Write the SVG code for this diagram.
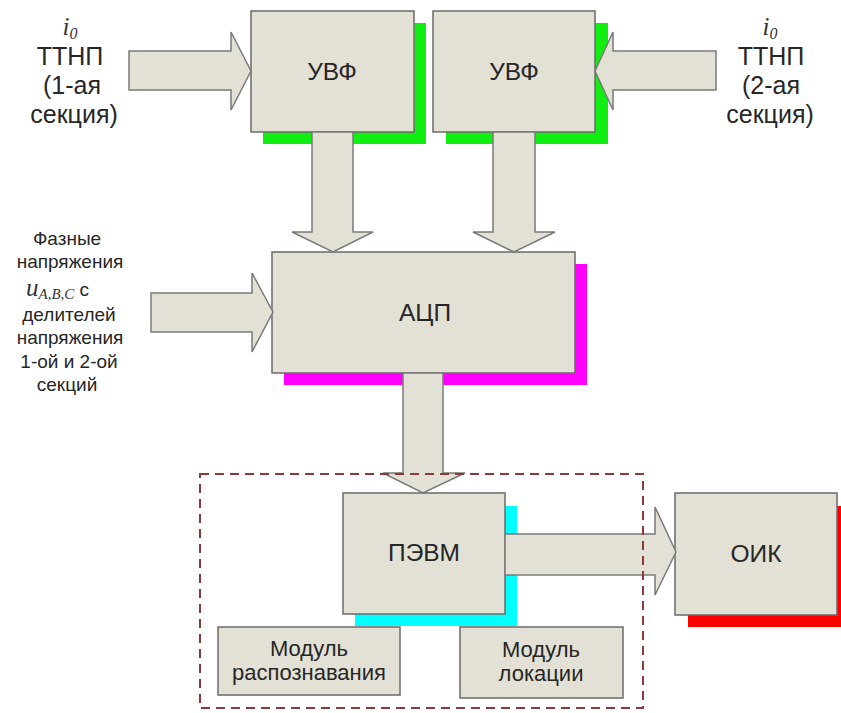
<svg xmlns="http://www.w3.org/2000/svg" width="841" height="713" viewBox="0 0 841 713">
<style>
.box{fill:#E3E1D5;stroke:#6a6a6a;stroke-width:1.5}
.arr{fill:#E3E1D5;stroke:#7a7a7a;stroke-width:1.5;stroke-linejoin:miter}
.t{font-family:"Liberation Sans",Arial,sans-serif;fill:#262626;text-anchor:middle}
.lbl{font-size:24.5px}
.side{font-size:25px}
.ph{font-size:19px}
.mod{font-size:22px}
.math{font-family:"Liberation Serif","Times New Roman",serif;font-style:italic;fill:#333}
.dash{fill:none;stroke:#8B3A3A;stroke-width:2;stroke-dasharray:9,6}
</style>
<rect width="841" height="713" fill="#ffffff"/>

<g id="shadows">
<rect x="263" y="23" width="163" height="121" fill="#11EE11"/>
<rect x="446" y="23" width="162" height="121" fill="#11EE11"/>
<rect x="284" y="264" width="303" height="121" fill="#FF00FF"/>
<rect x="355" y="506" width="162" height="120" fill="#00FFFF"/>
<rect x="688" y="506" width="153" height="121" fill="#FF0000"/>
</g>

<g id="node-uvf1"><rect class="box" x="251" y="11" width="163" height="121"/><text class="t lbl" x="332" y="80">УВФ</text></g>
<g id="node-uvf2"><rect class="box" x="433" y="11" width="162" height="121"/><text class="t lbl" x="514" y="80">УВФ</text></g>
<g id="node-acp"><rect class="box" x="272" y="252" width="303" height="121"/><text class="t lbl" x="425" y="321">АЦП</text></g>
<g id="node-pevm"><rect class="box" x="343" y="493" width="162" height="121"/><text class="t lbl" x="424" y="561">ПЭВМ</text></g>
<g id="node-oik"><rect class="box" x="675" y="493" width="162" height="122"/><text class="t lbl" x="756" y="562">ОИК</text></g>
<g id="node-mod-rasp"><rect class="box" x="218" y="627" width="182" height="68"/><text class="t mod" x="309" y="656">Модуль</text><text class="t mod" x="309" y="680">распознавания</text></g>
<g id="node-mod-lok"><rect class="box" x="460" y="627" width="163" height="71"/><text class="t mod" x="541" y="657">Модуль</text><text class="t mod" x="541" y="681">локации</text></g>

<g id="connectors">
<polygon class="arr" points="129,51 231,51 231,32 251,71 231,110 231,90 129,90"/>
<polygon class="arr" points="716,51 613,51 613,32 595,71 613,110 613,90 716,90"/>
<polygon class="arr" points="312,132 353,132 353,232 373,232 333,252 292,232 312,232"/>
<polygon class="arr" points="493,132 535,132 535,232 555,232 514,252 473,232 493,232"/>
<polygon class="arr" points="151,293 252,293 252,273 273,312 252,352 252,332 151,332"/>
<polygon class="arr" points="403,373 443,373 443,473 465,473 423,493 383,473 403,473"/>
<polygon class="arr" points="505,534 655,534 655,507 676,552 655,595 655,575 505,575"/>
</g>

<g id="group-pc"><rect class="dash" x="200" y="474" width="443" height="234"/></g>

<g id="label-left">
<text class="math" x="70" y="35" font-size="25" text-anchor="middle">i<tspan font-size="16" dy="4">0</tspan></text>
<text class="t side" x="70" y="65">ТТНП</text>
<text class="t side" x="72" y="94">(1-ая</text>
<text class="t side" x="74" y="123">секция)</text>
</g>
<g id="label-right">
<text class="math" x="770" y="35" font-size="25" text-anchor="middle">i<tspan font-size="16" dy="4">0</tspan></text>
<text class="t side" x="771" y="65">ТТНП</text>
<text class="t side" x="771" y="94">(2-ая</text>
<text class="t side" x="770" y="123">секция)</text>
</g>
<g id="label-phase">
<text class="t ph" x="67" y="245">Фазные</text>
<text class="t ph" x="70" y="268">напряжения</text>
<text x="26" y="296"><tspan class="math" font-size="25">u</tspan><tspan class="math" font-size="15" dy="3">A,B,C</tspan><tspan font-family="Liberation Sans,Arial,sans-serif" font-size="19" fill="#262626" dy="-3"> с</tspan></text>
<text class="t ph" x="69" y="321">делителей</text>
<text class="t ph" x="70" y="344">напряжения</text>
<text class="t ph" x="69" y="368">1-ой и 2-ой</text>
<text class="t ph" x="67" y="391">секций</text>
</g>
</svg>
